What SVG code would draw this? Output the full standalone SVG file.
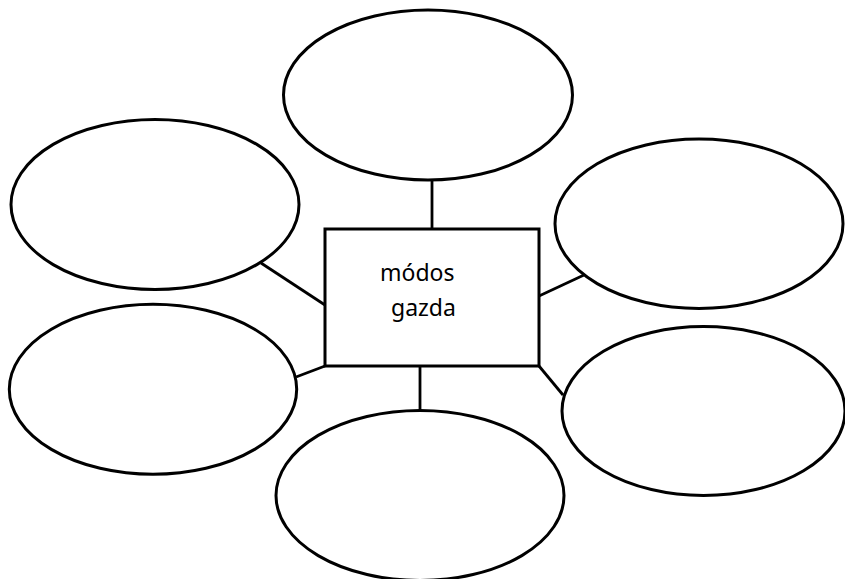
<svg xmlns="http://www.w3.org/2000/svg" width="845" height="579" viewBox="0 0 845 579">
  <style>
    .shape { fill: #ffffff; stroke: #000000; stroke-width: 3; }
    .conn line { stroke: #000000; stroke-width: 2.8; stroke-linecap: butt; }
    .label { font-family: "Comic Sans MS", "Noto Sans", "DejaVu Sans", sans-serif; font-size: 23px; fill: #000000; }
  </style>
  <rect width="845" height="579" fill="#ffffff"/>
  <g id="connectors" class="conn">
    <line x1="432" y1="180" x2="432" y2="229"/>
    <line x1="261" y1="263" x2="325" y2="305"/>
    <line x1="539" y1="296" x2="584" y2="275"/>
    <line x1="325" y1="366" x2="296" y2="377"/>
    <line x1="539" y1="366" x2="563" y2="395"/>
    <line x1="420" y1="366" x2="420" y2="410"/>
  </g>
  <g id="node-top"><ellipse class="shape" cx="428" cy="95" rx="144.5" ry="85"/></g>
  <g id="node-upper-left"><ellipse class="shape" cx="155" cy="204.5" rx="144" ry="85"/></g>
  <g id="node-upper-right"><ellipse class="shape" cx="699" cy="223.7" rx="144" ry="84.7"/></g>
  <g id="node-lower-left"><ellipse class="shape" cx="153" cy="389.3" rx="143.7" ry="85"/></g>
  <g id="node-lower-right"><ellipse class="shape" cx="703.5" cy="411" rx="141.5" ry="84.5"/></g>
  <g id="node-bottom"><ellipse class="shape" cx="420" cy="495.5" rx="144" ry="85"/></g>
  <g id="node-center">
    <rect class="shape" x="325" y="229" width="214" height="137"/>
    <text class="label" x="380" y="281">módos</text>
    <text class="label" x="391" y="316">gazda</text>
  </g>
</svg>
